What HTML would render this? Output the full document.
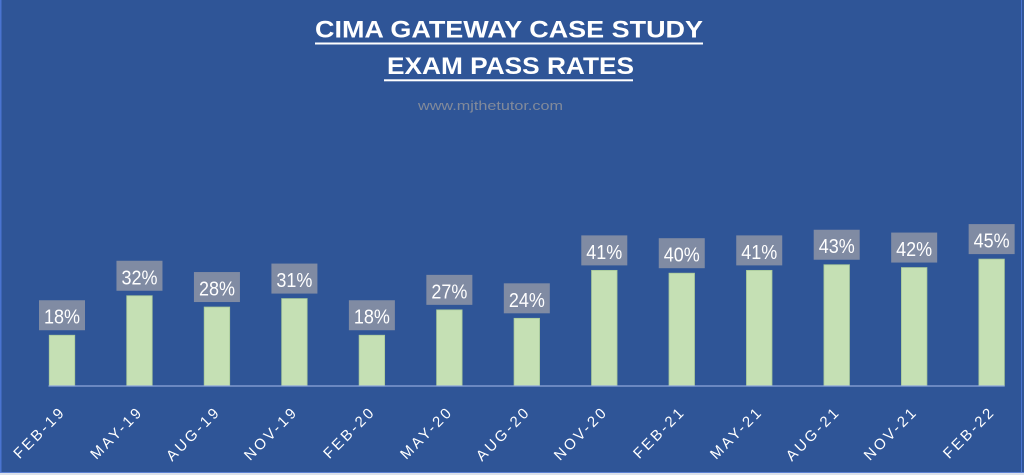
<!DOCTYPE html>
<html>
<head>
<meta charset="utf-8">
<style>
  html,body{margin:0;padding:0;background:#2F5597;}
  svg{display:block;}
  .lbl{font-family:"Liberation Sans",sans-serif;font-size:20px;fill:#ffffff;text-anchor:middle;}
  .xl{font-family:"Liberation Sans",sans-serif;font-size:15px;fill:#ffffff;text-anchor:end;letter-spacing:2.6px;}
</style>
</head>
<body>
<svg width="1024" height="475" viewBox="0 0 1024 475" xmlns="http://www.w3.org/2000/svg">
  <rect x="0" y="0" width="1024" height="475" fill="#2F5597"/>
  <rect x="0" y="0" width="1.5" height="473" fill="#4A74D0"/>
  <rect x="1021" y="0" width="1" height="473" fill="#4A74D0"/>
  <rect x="0" y="472" width="1024" height="1" fill="#5B80D2"/>
  <rect x="0" y="473" width="1024" height="2" fill="#DCE1EA"/>

  <!-- Title -->
  <text x="315" y="37.3" textLength="388" lengthAdjust="spacingAndGlyphs" font-family="Liberation Sans, sans-serif" font-weight="bold" font-size="24" fill="#ffffff">CIMA GATEWAY CASE STUDY</text>
  <rect x="315" y="42.5" width="388" height="2" fill="#ffffff"/>
  <text x="387" y="74" textLength="247" lengthAdjust="spacingAndGlyphs" font-family="Liberation Sans, sans-serif" font-weight="bold" font-size="24" fill="#ffffff">EXAM PASS RATES</text>
  <rect x="384" y="79.3" width="249" height="2" fill="#ffffff"/>
  <text x="418" y="110" textLength="145" lengthAdjust="spacingAndGlyphs" font-family="Liberation Sans, sans-serif" font-size="13" fill="#828A9A">www.mjthetutor.com</text>

  <!-- Bars -->
  <g fill="#C5E0B4" stroke="#A9C99A" stroke-width="0.8">
    <rect x="49.25" y="335.24" width="25.5" height="50.76"/>
    <rect x="126.72" y="295.76" width="25.5" height="90.24"/>
    <rect x="204.19" y="307.04" width="25.5" height="78.96"/>
    <rect x="281.66" y="298.58" width="25.5" height="87.42"/>
    <rect x="359.13" y="335.24" width="25.5" height="50.76"/>
    <rect x="436.60" y="309.86" width="25.5" height="76.14"/>
    <rect x="514.07" y="318.32" width="25.5" height="67.68"/>
    <rect x="591.54" y="270.38" width="25.5" height="115.62"/>
    <rect x="669.01" y="273.20" width="25.5" height="112.80"/>
    <rect x="746.48" y="270.38" width="25.5" height="115.62"/>
    <rect x="823.95" y="264.74" width="25.5" height="121.26"/>
    <rect x="901.42" y="267.56" width="25.5" height="118.44"/>
    <rect x="978.89" y="259.10" width="25.5" height="126.90"/>
  </g>

  <!-- Axis -->
  <line x1="48.5" y1="386" x2="1004.5" y2="386" stroke="#8FA8DA" stroke-width="1.3"/>

  <!-- Data labels -->
  <g fill="#808BA3">
    <rect x="39.00" y="300.24" width="46" height="30"/>
    <rect x="116.47" y="260.76" width="46" height="30"/>
    <rect x="193.94" y="272.04" width="46" height="30"/>
    <rect x="271.41" y="263.58" width="46" height="30"/>
    <rect x="348.88" y="300.24" width="46" height="30"/>
    <rect x="426.35" y="274.86" width="46" height="30"/>
    <rect x="503.82" y="283.32" width="46" height="30"/>
    <rect x="581.29" y="235.38" width="46" height="30"/>
    <rect x="658.76" y="238.20" width="46" height="30"/>
    <rect x="736.23" y="235.38" width="46" height="30"/>
    <rect x="813.70" y="229.74" width="46" height="30"/>
    <rect x="891.17" y="232.56" width="46" height="30"/>
    <rect x="968.64" y="224.10" width="46" height="30"/>
  </g>
  <g>
    <text class="lbl" x="62.00" y="323.74" textLength="36" lengthAdjust="spacingAndGlyphs">18%</text>
    <text class="lbl" x="139.47" y="284.26" textLength="36" lengthAdjust="spacingAndGlyphs">32%</text>
    <text class="lbl" x="216.94" y="295.54" textLength="36" lengthAdjust="spacingAndGlyphs">28%</text>
    <text class="lbl" x="294.41" y="287.08" textLength="36" lengthAdjust="spacingAndGlyphs">31%</text>
    <text class="lbl" x="371.88" y="323.74" textLength="36" lengthAdjust="spacingAndGlyphs">18%</text>
    <text class="lbl" x="449.35" y="298.36" textLength="36" lengthAdjust="spacingAndGlyphs">27%</text>
    <text class="lbl" x="526.82" y="306.82" textLength="36" lengthAdjust="spacingAndGlyphs">24%</text>
    <text class="lbl" x="604.29" y="258.88" textLength="36" lengthAdjust="spacingAndGlyphs">41%</text>
    <text class="lbl" x="681.76" y="261.70" textLength="36" lengthAdjust="spacingAndGlyphs">40%</text>
    <text class="lbl" x="759.23" y="258.88" textLength="36" lengthAdjust="spacingAndGlyphs">41%</text>
    <text class="lbl" x="836.70" y="253.24" textLength="36" lengthAdjust="spacingAndGlyphs">43%</text>
    <text class="lbl" x="914.17" y="256.06" textLength="36" lengthAdjust="spacingAndGlyphs">42%</text>
    <text class="lbl" x="991.64" y="247.60" textLength="36" lengthAdjust="spacingAndGlyphs">45%</text>
  </g>

  <!-- X axis labels -->
  <g>
    <text class="xl" x="66.50" y="412.5" transform="rotate(-45 66.50 412.5)">FEB-19</text>
    <text class="xl" x="143.97" y="412.5" transform="rotate(-45 143.97 412.5)">MAY-19</text>
    <text class="xl" x="221.44" y="412.5" transform="rotate(-45 221.44 412.5)">AUG-19</text>
    <text class="xl" x="298.91" y="412.5" transform="rotate(-45 298.91 412.5)">NOV-19</text>
    <text class="xl" x="376.38" y="412.5" transform="rotate(-45 376.38 412.5)">FEB-20</text>
    <text class="xl" x="453.85" y="412.5" transform="rotate(-45 453.85 412.5)">MAY-20</text>
    <text class="xl" x="531.32" y="412.5" transform="rotate(-45 531.32 412.5)">AUG-20</text>
    <text class="xl" x="608.79" y="412.5" transform="rotate(-45 608.79 412.5)">NOV-20</text>
    <text class="xl" x="686.26" y="412.5" transform="rotate(-45 686.26 412.5)">FEB-21</text>
    <text class="xl" x="763.73" y="412.5" transform="rotate(-45 763.73 412.5)">MAY-21</text>
    <text class="xl" x="841.20" y="412.5" transform="rotate(-45 841.20 412.5)">AUG-21</text>
    <text class="xl" x="918.67" y="412.5" transform="rotate(-45 918.67 412.5)">NOV-21</text>
    <text class="xl" x="996.14" y="412.5" transform="rotate(-45 996.14 412.5)">FEB-22</text>
  </g>
</svg>
</body>
</html>
